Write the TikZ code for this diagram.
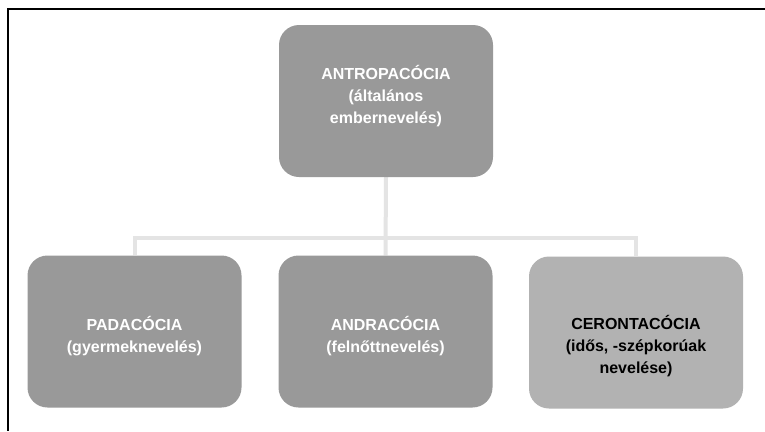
\documentclass[tikz,border=0pt]{standalone}
\usepackage{fontspec}
\setmainfont{Liberation Sans}
\usetikzlibrary{backgrounds}
\definecolor{boxdark}{HTML}{999999}
\definecolor{boxlight}{HTML}{B2B2B2}
\definecolor{linegray}{HTML}{E4E4E4}
\tikzset{
  box/.style={draw=none, fill=boxdark, rounded corners=20pt, minimum width=214pt, minimum height=152pt, inner sep=0pt},
  lbox/.style={box, fill=boxlight},
  wtxt/.style={text=white, font=\fontsize{16}{22}\selectfont\bfseries, align=center, inner sep=0pt},
  btxt/.style={wtxt, text=black},
  conn/.style={draw=linegray, line width=4pt},
  frame/.style={draw=black, line width=2pt}
}
\begin{document}
\begin{tikzpicture}[x=1pt,y=-1pt]
\useasboundingbox (0,0) rectangle (765,431);
\node[box] (top) at (386,101) {};
\node[box] (pada) at (134.5,331.5) {};
\node[box] (andra) at (385.5,331.5) {};
\node[lbox] (ceron) at (636,332.5) {};
\node[wtxt] (ttop) at (386,96) {ANTROPACÓCIA\\(általános\\embernevelés)};
\node[wtxt] (tpada) at (134.5,336) {PADACÓCIA\\(gyermeknevelés)};
\node[wtxt] (tandra) at (385.5,336) {ANDRACÓCIA\\(felnőttnevelés)};
\node[btxt] (tceron) at (636,346) {CERONTACÓCIA\\(idős, -szépkorúak\\nevelése)};
\coordinate (bus) at (386,238);
\coordinate (fa) at (765,8.5);
\coordinate (fb) at (7.5,8.5);
\coordinate (fc) at (7.5,431);
\begin{scope}[on background layer]
\fill[white] (0,0) rectangle (765,431);
\draw[conn] (top.south) -- (andra.north);
\draw[conn] (pada.north) |- (bus) -| (ceron.north);
\end{scope}
\draw[frame] (fa) -- (fb) -- (fc);
\end{tikzpicture}
\end{document}
